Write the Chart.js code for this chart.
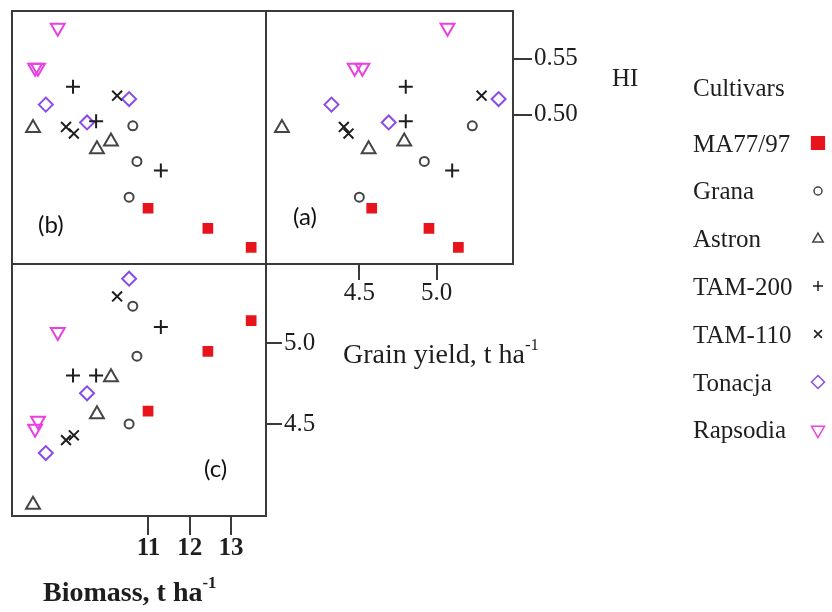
<!DOCTYPE html>
<html lang="en">
<head>
<meta charset="utf-8">
<title>Biomass, grain yield and HI of cultivars</title>
<script src="https://cdn.jsdelivr.net/npm/chart.js@4.4.1/dist/chart.umd.min.js"></script>
<style>
  html, body { margin: 0; background: #fff; }
  #page { position: relative; width: 832px; height: 612px; overflow: hidden;
          font-family: "Liberation Serif", "Times New Roman", serif; color: #1e1e1e; }
  #page canvas.plot { position: absolute; left: 0; top: 0; }
  .lbl { position: absolute; white-space: nowrap; line-height: 1; }
  .lbl sup { position: relative; top: -0.8em; font-size: 0.6em; vertical-align: baseline; line-height: 0; }
  .panel { font-family: Lato, "Open Sans", sans-serif; font-size: 24px; color: #111; }
  .row { position: absolute; left: 0; white-space: nowrap; font-size: 25px; line-height: 1; }
  .row canvas { position: absolute; }
  #legend { position: absolute; left: 693px; top: 0; }
</style>
</head>
<body>
<div id="page">
  <canvas id="chartB" class="plot" width="832" height="612"></canvas>
  <canvas id="chartA" class="plot" width="832" height="612"></canvas>
  <canvas id="chartC" class="plot" width="832" height="612"></canvas>

  <div class="lbl panel" style="left:38px; top:212px;">(b)</div>
  <div class="lbl panel" style="left:293px; top:204px;">(a)</div>
  <div class="lbl panel" style="left:204px; top:456px;">(c)</div>

  <div class="lbl" style="left:612px; top:65px; font-size:25px;">HI</div>
  <div class="lbl" style="left:343px; top:340px; font-size:28px;">Grain yield, t ha<sup>-1</sup></div>
  <div class="lbl" style="left:43px; top:578px; font-size:28px; font-weight:bold;">Biomass, t ha<sup>-1</sup></div>

  <div id="legend">
    <div class="row" style="top:75px;">Cultivars</div>
  </div>
</div>

<script>
const cultivars = ['MA77/97', 'Grana', 'Astron', 'TAM-200', 'TAM-110', 'Tonacja', 'Rapsodia'];

// three observations per cultivar, same order as cultivars
const biomass = [          // t ha-1
  [10.99, 12.44, 13.49],
  [10.62, 10.72, 10.53],
  [8.20, 9.75, 10.09],
  [9.17, 9.73, 11.30],
  [10.24, 9.00, 9.19],
  [8.51, 9.51, 10.53],
  [8.80, 8.32, 8.25]
];
const grainYield = [       // t ha-1
  [4.58, 4.95, 5.14],
  [5.23, 4.92, 4.50],
  [4.00, 4.56, 4.79],
  [4.80, 4.80, 5.10],
  [5.29, 4.40, 4.43],
  [4.32, 4.69, 5.40],
  [5.07, 4.52, 4.47]
];
const harvestIndex = [
  [0.416, 0.398, 0.381],
  [0.490, 0.458, 0.426],
  [0.488, 0.469, 0.476],
  [0.525, 0.494, 0.450],
  [0.517, 0.489, 0.483],
  [0.509, 0.493, 0.514],
  [0.578, 0.542, 0.542]
];

const biomassTicks = [11, 12, 13];
const yieldTicks = [4.5, 5.0];
const hiTicks = [0.50, 0.55];

// axis extents of the panels
const biomassRange = [7.69, 13.85];
const hiRange = [0.366, 0.593];
const yieldRangeA = [3.897, 5.493];
const yieldRangeC = [3.93, 5.491];

// marker look for each cultivar
const markers = [
  { style: 'rect', rot: 0, r: 6.5, color: '#e8141c', filled: true },
  { style: 'circle', rot: 0, r: 4.5, color: '#454545' },
  { style: 'triangle', rot: 0, r: 8, color: '#454545' },
  { style: 'cross', rot: 0, r: 7, color: '#1e1e1e' },
  { style: 'crossRot', rot: 0, r: 7, color: '#1e1e1e' },
  { style: 'rectRot', rot: 0, r: 7, color: '#8a4bec' },
  { style: 'triangle', rot: 180, r: 8, color: '#e940e2' }
];
const legendRadius = [9, 4, 6, 5, 5.5, 6.5, 7.5];

Chart.defaults.font.family = "'Liberation Serif', serif";
Chart.defaults.color = '#1e1e1e';

function makeDatasets(xs, ys) {
  return cultivars.map((name, i) => ({
    label: name,
    data: xs[i].map((x, j) => ({ x: x, y: ys[i][j] })),
    pointStyle: markers[i].style,
    pointRotation: markers[i].rot,
    pointRadius: markers[i].r,
    pointHoverRadius: markers[i].r,
    pointBorderWidth: markers[i].filled ? 1.5 : 2,
    pointBorderColor: markers[i].color,
    pointBackgroundColor: markers[i].filled ? markers[i].color : 'rgba(0,0,0,0)',
    showLine: false
  }));
}

const AXIS_W = 70, AXIS_H = 50;

function hiddenAxis(range) {
  return { type: 'linear', display: false, min: range[0], max: range[1] };
}

function shownAxis(range, ticks, position, tickLen, digits, bold) {
  const horizontal = position === 'bottom';
  return {
    type: 'linear',
    position: position,
    min: range[0],
    max: range[1],
    afterBuildTicks: s => { s.ticks = ticks.map(v => ({ value: v })); },
    afterFit: s => {
      if (horizontal) s.height = AXIS_H; else s.width = AXIS_W;
      s.paddingTop = s.paddingBottom = s.paddingLeft = s.paddingRight = 0;
    },
    grid: { drawOnChartArea: false, drawTicks: true, tickLength: tickLen, color: '#3a3a3a', lineWidth: 2 },
    border: { display: true, color: '#3a3a3a', width: 2 },
    ticks: {
      padding: horizontal ? 1 : 2,
      maxRotation: 0,
      autoSkip: false,
      color: '#1e1e1e',
      font: { size: 25, weight: bold ? 'bold' : 'normal', lineHeight: 1 },
      callback: v => Number(v).toFixed(digits)
    }
  };
}

// draws the square frame round each panel
const panelFrame = {
  id: 'panelFrame',
  beforeDatasetsDraw(chart) {
    const { ctx, chartArea: a } = chart;
    ctx.save();
    ctx.strokeStyle = '#3a3a3a';
    ctx.lineWidth = 2;
    ctx.strokeRect(a.left, a.top, a.right - a.left, a.bottom - a.top);
    ctx.restore();
  }
};

function makeChart(id, box, datasets, xAxis, yAxis) {
  const xShown = xAxis.display !== false;
  const yShown = yAxis.display !== false;
  return new Chart(document.getElementById(id), {
    type: 'scatter',
    data: { datasets: datasets },
    plugins: [panelFrame],
    options: {
      responsive: false,
      animation: false,
      devicePixelRatio: 1,
      layout: {
        autoPadding: false,
        padding: {
          left: box.l,
          top: box.t,
          right: 832 - box.r - (yShown ? AXIS_W : 0),
          bottom: 612 - box.b - (xShown ? AXIS_H : 0)
        }
      },
      plugins: { legend: { display: false }, tooltip: { enabled: false } },
      scales: { x: xAxis, y: yAxis }
    }
  });
}

// (b) biomass vs HI
makeChart('chartB', { l: 12, t: 11, r: 266, b: 264 },
  makeDatasets(biomass, harvestIndex),
  hiddenAxis(biomassRange), hiddenAxis(hiRange));

// (a) grain yield vs HI
makeChart('chartA', { l: 266, t: 11, r: 513, b: 264 },
  makeDatasets(grainYield, harvestIndex),
  shownAxis(yieldRangeA, yieldTicks, 'bottom', 16, 1, false),
  shownAxis(hiRange, hiTicks, 'right', 19, 2, false));

// (c) biomass vs grain yield
makeChart('chartC', { l: 12, t: 264, r: 266, b: 516 },
  makeDatasets(biomass, grainYield),
  shownAxis(biomassRange, biomassTicks, 'bottom', 19, 0, true),
  shownAxis(yieldRangeC, yieldTicks, 'right', 16, 1, false));

// legend: name on the left, marker in a column on the right
const legendBox = document.getElementById('legend');
const legendLeft = 693, legendMarkerX = 818, firstRow = 143, rowGap = 47.8;
cultivars.forEach((name, i) => {
  const m = markers[i];
  const row = document.createElement('div');
  row.className = 'row';
  row.style.top = (firstRow + i * rowGap - 12.5) + 'px';
  row.textContent = name;
  const c = document.createElement('canvas');
  c.width = 28; c.height = 28;
  c.style.left = (legendMarkerX - legendLeft - 14) + 'px';
  c.style.top = (12.5 - 14) + 'px';
  row.appendChild(c);
  legendBox.appendChild(row);
  const ctx = c.getContext('2d');
  ctx.strokeStyle = m.color;
  ctx.fillStyle = m.filled ? m.color : 'rgba(0,0,0,0)';
  ctx.lineWidth = 1.5;
  if (Chart.helpers && Chart.helpers.drawPoint) {
    Chart.helpers.drawPoint(ctx, { pointStyle: m.style, rotation: m.rot, radius: legendRadius[i], borderWidth: 1.5 }, 14, 14);
  }
});
</script>
</body>
</html>
